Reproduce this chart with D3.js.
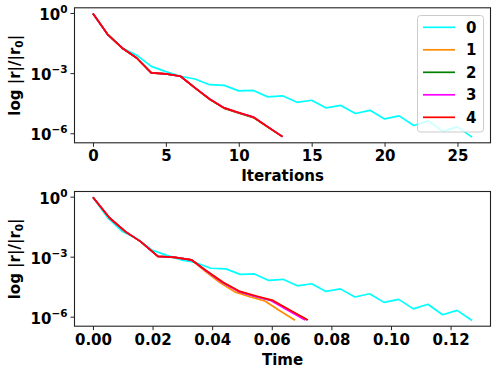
<!DOCTYPE html>
<meta charset="utf-8">
<style>
body { margin: 0; background: #fff; }
text { font-family: "DejaVu Sans", sans-serif; font-weight: bold; fill: #000; }
</style>
<body>
<script src="https://d3js.org/d3.v7.min.js"></script>
<script>
// series names + colours (matplotlib cyan, darkorange, green, magenta, red)
var names = ["0", "1", "2", "3", "4"];
var colors = ["#00ffff", "#ff8c00", "#008000", "#ff00ff", "#ff0000"];

// relative residual per iteration
var res0 = [1, 9.1e-2, 1.9e-2, 8.3e-3, 2.3e-3, 1.26e-3, 7.4e-4, 5.4e-4, 2.8e-4, 2.6e-4,
            1.38e-4, 1.45e-4, 6.9e-5, 7.8e-5, 3.7e-5, 4.7e-5, 1.95e-5, 2.6e-5, 1.02e-5, 1.48e-5,
            5.5e-6, 7.8e-6, 2.6e-6, 4.4e-6, 1.32e-6, 2.2e-6, 6.8e-7];
var res1 = [1, 9.1e-2, 1.9e-2, 6.0e-3, 1.1e-3, 9.8e-4, 7.4e-4, 1.9e-4, 5.2e-5, 1.85e-5, 1.05e-5, 6.4e-6, 2.1e-6, 7.1e-7];
var res2 = [1, 9.1e-2, 1.9e-2, 6.0e-3, 1.1e-3, 9.8e-4, 7.4e-4, 1.95e-4, 5.3e-5, 1.9e-5, 1.08e-5, 6.6e-6, 2.15e-6, 7.2e-7];
var res3 = [1, 9.1e-2, 1.9e-2, 6.0e-3, 1.1e-3, 9.8e-4, 7.4e-4, 1.95e-4, 5.4e-5, 1.95e-5, 1.12e-5, 6.8e-6, 2.2e-6, 7.2e-7];
var res4 = [1, 9.1e-2, 1.9e-2, 6.0e-3, 1.1e-3, 9.8e-4, 7.4e-4, 1.95e-4, 5.4e-5, 1.95e-5, 1.15e-5, 6.9e-6, 2.2e-6, 7.2e-7];

// wall time at each iteration
var time0 = [0, 0.0050, 0.0099, 0.0148, 0.0197, 0.0246, 0.0295, 0.0344, 0.0395, 0.0446,
             0.0494, 0.0542, 0.0590, 0.0638, 0.0686, 0.0734, 0.0782, 0.0830, 0.0879, 0.0928,
             0.0977, 0.1026, 0.1075, 0.1124, 0.1173, 0.1222, 0.1272];
var time1 = [0, 0.0056, 0.0109, 0.0160, 0.0218, 0.0275, 0.0330, 0.0378, 0.0427, 0.0476, 0.0526, 0.0577, 0.0627, 0.0678];
var time2 = [0, 0.0056, 0.0109, 0.0160, 0.0218, 0.0275, 0.0330, 0.0383, 0.0437, 0.0491, 0.0546, 0.0602, 0.0660, 0.0719];
var time3 = [0, 0.0056, 0.0109, 0.0160, 0.0218, 0.0275, 0.0330, 0.0382, 0.0435, 0.0488, 0.0542, 0.0597, 0.0654, 0.0712];
var time4 = [0, 0.0056, 0.0109, 0.0160, 0.0218, 0.0275, 0.0330, 0.0384, 0.0438, 0.0493, 0.0548, 0.0604, 0.0662, 0.0721];

var xTicksIter = [0, 5, 10, 15, 20, 25];
var xTicksTime = [0, 0.02, 0.04, 0.06, 0.08, 0.10, 0.12];
var yTicks = [1e0, 1e-3, 1e-6];

var width = 499, height = 376;
var left = 74, right = 491;

var residuals = [res0, res1, res2, res3, res4];
var times = [time0, time1, time2, time3, time4];

var svg = d3.select("body").append("svg")
    .attr("width", width)
    .attr("height", height);

// builds series as [{x, y}] for one panel
function series(useTime) {
  return residuals.map(function(r, k) {
    return r.map(function(v, i) { return { x: useTime ? times[k][i] : i, y: v }; });
  });
}

function panel(top, bottom, data, xTicks, xFmt, xLabel, showLegend) {
  var g = svg.append("g");

  var all = d3.merge(data);
  var xe = d3.extent(all, function(d) { return d.x; });
  var xp = (xe[1] - xe[0]) * 0.05;
  var ye = d3.extent(all, function(d) { return Math.log10(d.y); });
  var yp = (ye[1] - ye[0]) * 0.05;

  var x = d3.scaleLinear().domain([xe[0] - xp, xe[1] + xp]).range([left, right]);
  var y = d3.scaleLog().domain([Math.pow(10, ye[0] - yp), Math.pow(10, ye[1] + yp)]).range([bottom, top]);

  var line = d3.line()
      .x(function(d) { return x(d.x); })
      .y(function(d) { return y(d.y); });

  g.append("clipPath").attr("id", "clip" + top)
    .append("rect").attr("x", left).attr("y", top).attr("width", right - left).attr("height", bottom - top);

  g.append("g").attr("clip-path", "url(#clip" + top + ")")
    .selectAll("path").data(data).enter().append("path")
      .attr("d", line)
      .attr("fill", "none")
      .attr("stroke", function(d, i) { return colors[i]; })
      .attr("stroke-width", 1.7)
      .attr("stroke-linejoin", "round");

  // frame
  g.append("rect")
      .attr("x", left + 0.5).attr("y", top + 0.5)
      .attr("width", right - left - 1).attr("height", bottom - top - 1)
      .attr("fill", "none").attr("stroke", "#222").attr("stroke-width", 1.1);

  // x axis
  var xa = g.append("g").attr("transform", "translate(0," + (bottom - 0.5) + ")")
      .call(d3.axisBottom(x).tickValues(xTicks).tickFormat(xFmt).tickSize(4).tickPadding(4));
  xa.select(".domain").remove();
  xa.selectAll("line").attr("stroke", "#222");
  xa.selectAll("text").attr("font-size", 15).attr("fill", "#000");

  g.append("text")
      .attr("x", (left + right) / 2)
      .attr("y", bottom + 38)
      .attr("text-anchor", "middle")
      .attr("font-size", 15)
      .text(xLabel);

  // y axis with 10^n labels
  var ya = g.append("g").attr("transform", "translate(" + (left + 0.5) + ",0)");
  ya.selectAll("line").data(yTicks).enter().append("line")
      .attr("x1", -4).attr("x2", 0)
      .attr("y1", function(d) { return y(d); })
      .attr("y2", function(d) { return y(d); })
      .attr("stroke", "#222");
  var yl = ya.selectAll("text").data(yTicks).enter().append("text")
      .attr("x", -7)
      .attr("y", function(d) { return y(d) + 6.5; })
      .attr("text-anchor", "end")
      .attr("font-size", 15);
  yl.append("tspan").text("10");
  yl.append("tspan")
      .attr("dy", -7)
      .attr("font-size", 10.5)
      .text(function(d) {
        var e = Math.round(Math.log10(d));
        return e < 0 ? "\u2212" + (-e) : String(e);
      });

  var lab = g.append("text")
      .attr("transform", "translate(20," + ((top + bottom) / 2) + ") rotate(-90)")
      .attr("text-anchor", "middle")
      .attr("font-size", 15);
  lab.append("tspan").text("log |r|/|r");
  lab.append("tspan").attr("dy", 3).attr("font-size", 10.5).text("0");
  lab.append("tspan").attr("dy", -3).text("|");

  if (showLegend) {
    var lg = g.append("g");
    lg.append("rect")
        .attr("x", 417.5).attr("y", 15.5)
        .attr("width", 66).attr("height", 116.5)
        .attr("rx", 3)
        .attr("fill", "#fff").attr("fill-opacity", 0.8)
        .attr("stroke", "#ccc");
    var row = lg.selectAll("g.entry").data(names).enter().append("g")
        .attr("class", "entry")
        .attr("transform", function(d, i) { return "translate(0," + (27.3 + i * 22.5) + ")"; });
    row.append("line")
        .attr("x1", 423).attr("x2", 455)
        .attr("stroke", function(d, i) { return colors[i]; })
        .attr("stroke-width", 1.7);
    row.append("text")
        .attr("x", 466)
        .attr("y", 5.5)
        .attr("font-size", 15)
        .text(function(d) { return d; });
  }
}

panel(7.3, 143.3, series(false), xTicksIter, d3.format("d"), "Iterations", true);
panel(191, 326.7, series(true), xTicksTime, d3.format(".2f"), "Time", false);
</script>
